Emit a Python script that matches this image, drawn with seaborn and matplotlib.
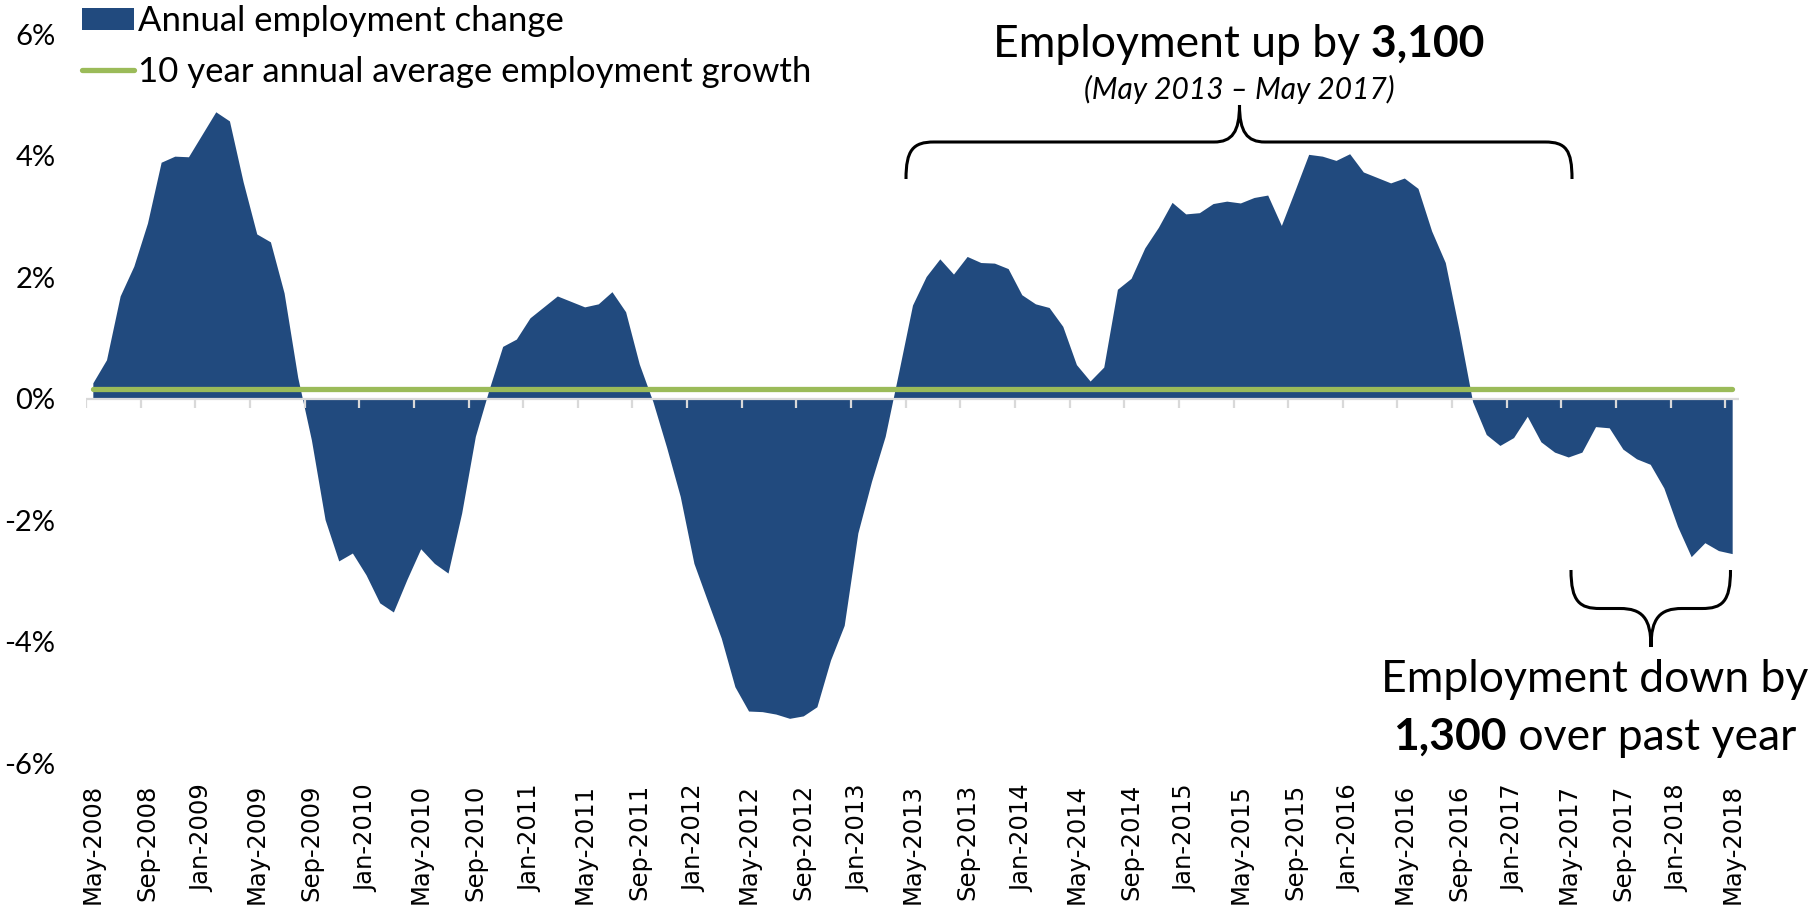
import matplotlib
matplotlib.use("Agg")
import matplotlib.pyplot as plt
import seaborn as sns
from matplotlib.path import Path
from matplotlib.patches import PathPatch, Patch
from matplotlib.lines import Line2D

# -------------------------------
# Data (monthly, May-2008 .. May-2018, % annual change)
# -------------------------------
emp_change = [
    0.26, 0.64, 1.69, 2.18, 2.89, 3.89, 3.99, 3.98, 4.35, 4.72,
    4.57, 3.57, 2.71, 2.58, 1.74, 0.35, -0.68, -1.99, -2.67, -2.54,
    -2.90, -3.36, -3.51, -2.97, -2.47, -2.71, -2.87, -1.88, -0.62, 0.15,
    0.86, 0.98, 1.33, 1.51, 1.69, 1.60, 1.51, 1.56, 1.76, 1.43,
    0.57, -0.05, -0.80, -1.61, -2.71, -3.33, -3.94, -4.74, -5.14, -5.15,
    -5.19, -5.26, -5.22, -5.07, -4.30, -3.73, -2.21, -1.36, -0.62, 0.45,
    1.54, 2.01, 2.30, 2.05, 2.34, 2.24, 2.23, 2.14, 1.71, 1.56,
    1.50, 1.19, 0.56, 0.29, 0.52, 1.80, 1.98, 2.48, 2.82, 3.23,
    3.04, 3.06, 3.21, 3.25, 3.22, 3.31, 3.35, 2.85, 3.43, 4.02,
    3.99, 3.92, 4.03, 3.73, 3.64, 3.55, 3.63, 3.46, 2.76, 2.24,
    1.14, -0.05, -0.59, -0.77, -0.64, -0.29, -0.71, -0.88, -0.96, -0.88,
    -0.46, -0.48, -0.83, -0.99, -1.08, -1.47, -2.10, -2.60, -2.37, -2.50,
    -2.55,
]
avg_growth = 0.16

tick_labels = [
    "May-2008", "Sep-2008", "Jan-2009", "May-2009", "Sep-2009", "Jan-2010",
    "May-2010", "Sep-2010", "Jan-2011", "May-2011", "Sep-2011", "Jan-2012",
    "May-2012", "Sep-2012", "Jan-2013", "May-2013", "Sep-2013", "Jan-2014",
    "May-2014", "Sep-2014", "Jan-2015", "May-2015", "Sep-2015", "Jan-2016",
    "May-2016", "Sep-2016", "Jan-2017", "May-2017", "Sep-2017", "Jan-2018",
    "May-2018",
]
y_ticks = [-6, -4, -2, 0, 2, 4, 6]
y_labels = ["-6%", "-4%", "-2%", "0%", "2%", "4%", "6%"]

BLUE = "#214A7E"
GREEN = "#9BBB59"
GREY = "#D9D9D9"

# -------------------------------
# Figure
# -------------------------------
sns.set_theme(style="white")
plt.rcParams["font.family"] = ["Lato", "DejaVu Sans"]
plt.rcParams["text.color"] = "black"
plt.rcParams["xtick.color"] = "black"
plt.rcParams["ytick.color"] = "black"

W, H = 1812, 917
fig = plt.figure(figsize=(W / 100, H / 100), dpi=100)
ax = fig.add_axes([86 / W, 1 - 763.3 / H, (1739 - 86) / W, (763.3 - 34) / H])

x = list(range(len(emp_change)))
ax.fill_between(x, 0, emp_change, color=BLUE, lw=0, zorder=2)

# zero axis line with tick marks between categories
ax.axhline(0, color=GREY, lw=1.6, zorder=3)
step = len(x) // (len(tick_labels) - 1)
tick_pos = [x[i] - 0.5 for i in range(0, len(x), step)]
ax.vlines(tick_pos, -0.15, 0, color=GREY, lw=1.6, zorder=3)

# 10 year average line
sns.lineplot(x=[x[0], x[-1]], y=[avg_growth, avg_growth], ax=ax, color=GREEN,
             lw=3.8, solid_capstyle="round", zorder=4)

ax.set_xlim(-0.5, x[-1] + 0.5)
ax.set_ylim(-6, 6)
ax.set_xticks(x[::step])
ax.set_xticklabels(tick_labels, rotation=90, fontsize=17.5, family="DejaVu Sans")
ax.set_yticks(y_ticks)
ax.set_yticklabels(y_labels, fontsize=21)
ax.tick_params(axis="x", length=0, pad=15)
ax.tick_params(axis="y", length=0, pad=22)
for s in ax.spines.values():
    s.set_visible(False)

# legend
handles = [Patch(color=BLUE, lw=0), Line2D([], [], color=GREEN, lw=3.8, solid_capstyle="round")]
fig.legend(handles, ["Annual employment change", "10 year annual average employment growth"],
           loc="upper left", bbox_to_anchor=(82 / W, 1 - 5 / H), frameon=False,
           fontsize=25, handlelength=1.5, handleheight=0.6, handletextpad=0.12,
           labelspacing=0.55, borderpad=0, borderaxespad=0)

# -------------------------------
# Annotations (pixel overlay)
# -------------------------------
ov = fig.add_axes([0, 0, 1, 1], zorder=5)
ov.set_xlim(0, W)
ov.set_ylim(H, 0)
ov.axis("off")
ov.patch.set_alpha(0)

M, C, L = Path.MOVETO, Path.CURVE4, Path.LINETO

# upper brace
up = [
    (906, 179), (906, 150), (913, 142), (934, 142),
    (1214, 142),
    (1232, 142), (1239.5, 132), (1239.5, 105),
    (1239.5, 132), (1247, 142), (1265, 142),
    (1545, 142),
    (1566, 142), (1572, 150), (1572, 179),
]
codes = [M, C, C, C, L, C, C, C, C, C, C, L, C, C, C]
ov.add_patch(PathPatch(Path(up, codes), fill=False, lw=2.2, color="black", capstyle="butt"))

# lower brace
lo = [
    (1571, 570), (1571, 602), (1580, 608.5), (1600, 608.5),
    (1620, 608.5),
    (1642, 608.5), (1651, 618), (1651, 647),
    (1651, 618), (1660, 608.5), (1682, 608.5),
    (1702, 608.5),
    (1722, 608.5), (1730.5, 602), (1730.5, 570),
]
ov.add_patch(PathPatch(Path(lo, codes), fill=False, lw=2.2, color="black", capstyle="butt"))

renderer = fig.canvas.get_renderer()


def rich_line(parts, xc, y, size):
    texts = [ov.text(0, y, s, fontsize=size, fontweight=w, va="baseline", ha="left")
             for s, w in parts]
    widths = [t.get_window_extent(renderer).width for t in texts]
    xpos = xc - sum(widths) / 2
    for t, w in zip(texts, widths):
        t.set_x(xpos)
        xpos += w


rich_line([("Employment up by", "normal"), (" 3,100", "bold")], 1239, 57, 32)
ov.text(1239, 99, "(May 2013 \u2013 May 2017)", fontsize=21.5, style="italic",
        ha="center", va="baseline")
rich_line([("Employment down by", "normal")], 1595, 692, 32)
rich_line([("1,300", "bold"), (" over past year", "normal")], 1595, 750, 32)

fig.savefig("out.png", dpi=100)
